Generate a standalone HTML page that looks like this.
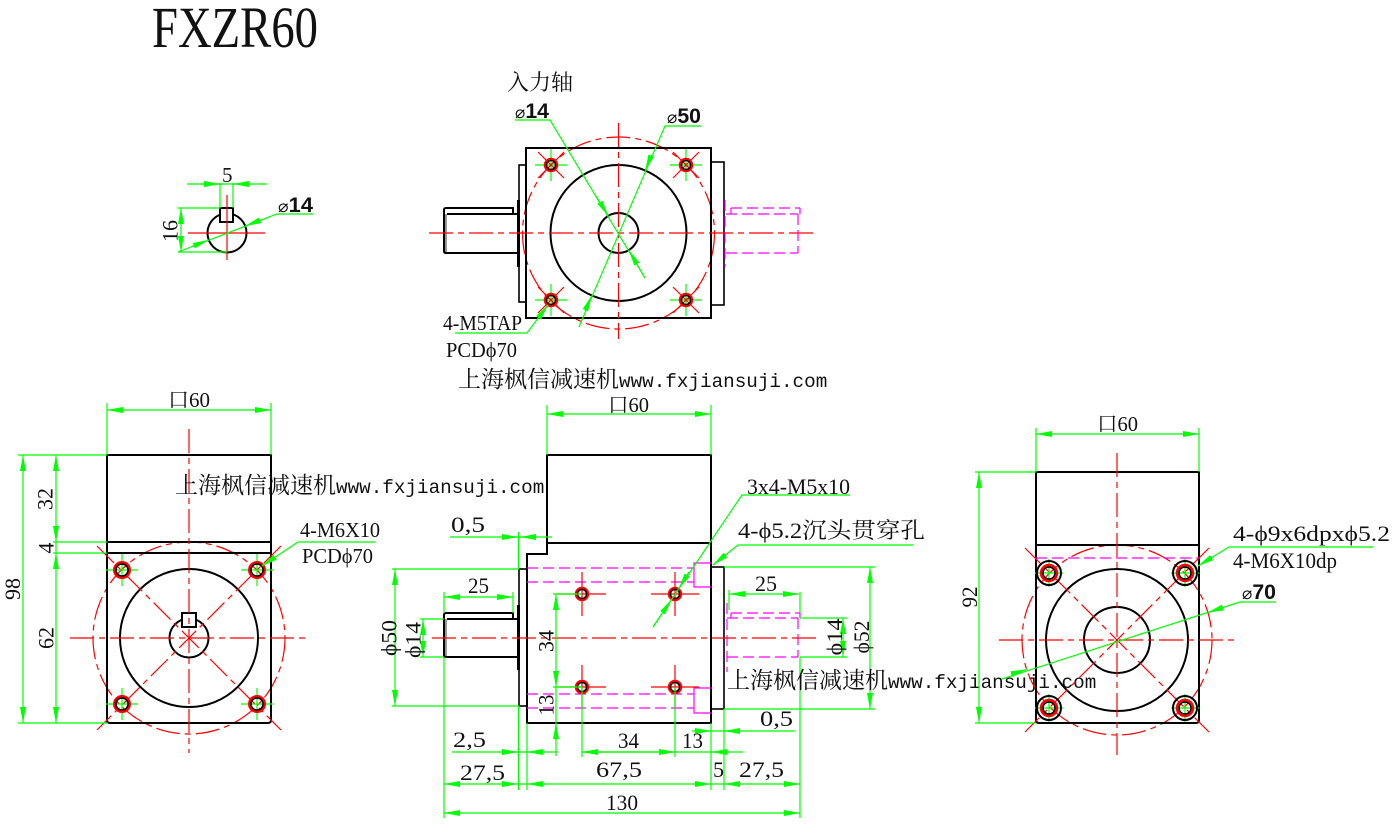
<!DOCTYPE html>
<html><head><meta charset="utf-8"><style>
html,body{margin:0;padding:0;background:#fff;}
svg{display:block;}
text{font-family:"Liberation Serif","Noto Serif CJK SC",serif;fill:#111;}
.s{font-family:"Liberation Sans","DejaVu Sans",sans-serif;font-weight:bold;}
.k{stroke:#000;stroke-width:2;fill:none;}
.r{stroke:#f00;stroke-width:1.2;fill:none;stroke-dasharray:24 5 6 5;}
.rs{stroke:#f00;stroke-width:1.2;fill:none;}
.g{stroke:#0f0;stroke-width:1.2;fill:none;}
.ga{stroke:#0f0;stroke-width:1.2;fill:none;marker-end:url(#a);}
.gb{stroke:#0f0;stroke-width:1.2;fill:none;marker-start:url(#a);marker-end:url(#a);}
.m{stroke:#f0f;stroke-width:1.2;fill:none;stroke-dasharray:11 5;}
.ms{stroke:#f0f;stroke-width:1.2;fill:none;}
</style></head><body>
<svg width="1400" height="828" viewBox="0 0 1400 828" xmlns="http://www.w3.org/2000/svg">
<defs>
<marker id="a" markerUnits="userSpaceOnUse" markerWidth="16" markerHeight="6" refX="16" refY="3" orient="auto-start-reverse" viewBox="0 0 16 6"><path d="M0,0L16,3L0,6z" fill="#0f0"/></marker>
<g id="hA"><path d="M-16,0H16M0,-16V16" class="g"/><path d="M-13,-13L13,13M13,-13L-13,13" class="rs"/><circle r="6" stroke="#f00" stroke-width="2.5" fill="none"/><circle r="4.5" stroke="#000" stroke-width="1.5" fill="none"/></g>
<g id="hB"><path d="M-16,0H16M0,-16V16" class="g"/><circle r="7.5" stroke="#f00" stroke-width="3" fill="none"/><circle r="6" stroke="#000" stroke-width="1.5" fill="none"/></g>
<g id="hC"><path d="M-24,0H24M0,-22V22" class="rs"/><circle r="6" stroke="#f00" stroke-width="2.5" fill="none"/><circle r="4.5" stroke="#000" stroke-width="1.5" fill="none"/></g>
<g id="hD"><path d="M-14,0H14M0,-14V14" class="g"/><circle r="12" stroke="#000" stroke-width="2" fill="none"/><circle r="8" stroke="#f00" stroke-width="2.5" fill="none"/><circle r="6" stroke="#000" stroke-width="1.5" fill="none"/></g>
</defs>
<rect width="1400" height="828" fill="#fff"/>

<!-- Title -->
<text x="152" y="47" font-size="58" textLength="166" lengthAdjust="spacingAndGlyphs">FXZR60</text>

<!-- ===== Key view ===== -->
<circle cx="227" cy="233" r="19.5" class="k"/>
<rect x="220" y="208" width="13" height="14" fill="#fff" stroke="#000" stroke-width="2"/>
<path d="M227,195V260M188,233H265" class="rs"/>
<path d="M220,183V208M233,183V208" class="g"/>
<path d="M187,184H267" class="g"/>
<path d="M200,184H220" class="ga"/>
<path d="M250,184H233" class="ga"/>
<text x="222" y="182" font-size="21">5</text>
<path d="M178,208H220M178,252H227" class="g"/>
<path d="M181,208V252" class="gb"/>
<text transform="translate(170,231) rotate(-90)" y="7.5" text-anchor="middle" font-size="22" textLength="22" lengthAdjust="spacingAndGlyphs">16</text>
<path d="M313,214H277L178,252" class="g"/>
<path d="M262,219.6L245.2,226" class="ga"/>
<path d="M192,246.4L208.8,240" class="ga"/>
<text x="278" y="212" class="s" font-size="21" textLength="35" lengthAdjust="spacingAndGlyphs"><tspan font-size="17" font-weight="normal">⌀</tspan>14</text>

<!-- ===== Top center view ===== -->
<circle cx="618.5" cy="233" r="96" class="r"/>
<rect x="526" y="148" width="185" height="170" class="k"/>
<rect x="519" y="165" width="7" height="137" stroke="#000" stroke-width="1.6" fill="none"/>
<rect x="711" y="162" width="13" height="143" stroke="#000" stroke-width="1.6" fill="none"/>
<rect x="444" y="214" width="3" height="39" fill="#999"/>
<path d="M513,214V208H446Q444,208 444,210V251Q444,253 446,253H518M447,214H518" class="k"/>
<path d="M518.5,200V267" stroke="#000" stroke-width="3"/>
<circle cx="618.5" cy="233" r="68" class="k"/>
<circle cx="618.5" cy="233" r="20" class="k"/>
<use href="#hA" x="551" y="165"/><use href="#hA" x="686" y="165"/>
<use href="#hA" x="551" y="300"/><use href="#hA" x="686" y="300"/>
<path d="M429,233H815" class="r"/>
<path d="M618.5,123V339" class="r"/>
<path d="M726,214H798M726,253H798M731,208H800M798,214V253M800,208V214M731,208V214" class="m"/>
<path d="M725,200V267" class="m"/>
<!-- leaders -->
<path d="M515,120H550L645,278" class="g"/>
<path d="M596,196L608.2,215.8" class="ga"/>
<path d="M645,278L628.8,250.2" class="ga"/>
<text x="515" y="118" class="s" font-size="21" textLength="34" lengthAdjust="spacingAndGlyphs"><tspan font-size="17" font-weight="normal">⌀</tspan>14</text>
<path d="M701,126H665L579,327" class="g"/>
<path d="M651.5,155L645.2,170.5" class="ga"/>
<path d="M585,311L591.8,295.5" class="ga"/>
<text x="667" y="123" class="s" font-size="21" textLength="34" lengthAdjust="spacingAndGlyphs"><tspan font-size="17" font-weight="normal">⌀</tspan>50</text>
<path d="M455,333H527L548,305" class="g"/>
<path d="M538,318.5L548,305" class="ga"/>
<text x="443" y="330" font-size="21" textLength="79" lengthAdjust="spacingAndGlyphs">4-M5TAP</text>
<text x="446" y="357" font-size="21" textLength="71" lengthAdjust="spacingAndGlyphs">PCDϕ70</text>
<text x="507" y="90" font-family="Noto Sans CJK SC" font-size="22">入力轴</text>
<text x="458" y="387"><tspan font-family="Noto Serif CJK SC" font-size="23">上海枫信减速机</tspan><tspan font-family="Liberation Mono" font-size="19.3">www.fxjiansuji.com</tspan></text>

<!-- ===== Left bottom view ===== -->
<circle cx="189" cy="638" r="96" class="r"/>
<path d="M107,455H271V720Q271,723 268,723H110Q107,723 107,720Z" class="k"/>
<path d="M107,542H271M107,553H271" class="k"/>
<circle cx="189" cy="638" r="69" class="k"/>
<circle cx="189" cy="638" r="19.5" class="k"/>
<rect x="182" y="613" width="14" height="14" fill="#fff" stroke="#000" stroke-width="2"/>
<path d="M97,546L281,730M281,546L97,730" class="r"/>
<path d="M189,429V753" class="r"/>
<path d="M70,638H306" class="r"/>
<use href="#hB" x="122" y="570"/><use href="#hB" x="257" y="570"/>
<use href="#hB" x="122" y="704"/><use href="#hB" x="257" y="704"/>
<path d="M107,403V455M271,403V455" class="g"/>
<path d="M107,410H271" class="gb"/>
<text x="168" y="407" font-size="21" textLength="42" lengthAdjust="spacingAndGlyphs">口60</text>
<path d="M18,455H107M18,723H107M53,542H107M53,553H107" class="g"/>
<path d="M23,455V723" class="gb"/>
<path d="M56,455V542" class="gb"/>
<path d="M56,542V553" class="g"/>
<path d="M56,553V723" class="gb"/>
<text transform="translate(12.5,589) rotate(-90)" y="7.5" text-anchor="middle" font-size="22" textLength="22" lengthAdjust="spacingAndGlyphs">98</text>
<text transform="translate(45,499) rotate(-90)" y="7.5" text-anchor="middle" font-size="22" textLength="22" lengthAdjust="spacingAndGlyphs">32</text>
<text transform="translate(46,548) rotate(-90)" y="7.5" text-anchor="middle" font-size="22">4</text>
<text transform="translate(46,638) rotate(-90)" y="7.5" text-anchor="middle" font-size="22" textLength="22" lengthAdjust="spacingAndGlyphs">62</text>
<path d="M375,542H298L262,566" class="g"/>
<path d="M275,557.3L262,566" class="ga"/>
<text x="300" y="537" font-size="21" textLength="80" lengthAdjust="spacingAndGlyphs">4-M6X10</text>
<text x="302" y="563" font-size="21" textLength="71" lengthAdjust="spacingAndGlyphs">PCDϕ70</text>
<text x="175" y="493"><tspan font-family="Noto Serif CJK SC" font-size="23">上海枫信减速机</tspan><tspan font-family="Liberation Mono" font-size="19.3">www.fxjiansuji.com</tspan></text>

<!-- ===== Middle bottom view ===== -->
<rect x="547" y="455" width="164" height="88" class="k"/>
<path d="M527,554H547V543H711V723H527Z" class="k"/>
<rect x="519" y="569" width="8" height="137" stroke="#000" stroke-width="1.6" fill="none"/>
<rect x="711" y="567" width="13" height="142" stroke="#000" stroke-width="1.6" fill="none"/>
<rect x="444" y="619" width="3" height="38" fill="#999"/>
<path d="M513,619V613H446Q444,613 444,615V655Q444,657 446,657H518M447,619H518" class="k"/>
<path d="M518.5,605V670" stroke="#000" stroke-width="3"/>
<path d="M527,568H694M527,582H694M527,694H694M527,708H694" class="m"/>
<path d="M711,563H694V587H711M711,688H694V713H711" class="ms"/>
<path d="M727,618H798M727,657H798M731,613H800M798,618V657M800,613V618M731,613V618" class="m"/>
<path d="M727,603V672" class="m"/>
<path d="M432,638H817" class="r"/>
<use href="#hC" x="582" y="594"/><use href="#hC" x="675" y="594"/>
<use href="#hC" x="582" y="687"/><use href="#hC" x="675" y="687"/>
<!-- dims -->
<path d="M547,405V455M711,405V455" class="g"/>
<path d="M547,414H711" class="gb"/>
<text x="608" y="412" font-size="21" textLength="41" lengthAdjust="spacingAndGlyphs">口60</text>
<path d="M518.5,532V569" class="g"/>
<path d="M450,537H552" class="g"/>
<path d="M502,537H518" class="ga"/>
<path d="M536,537H520" class="ga"/>
<text x="451" y="532" font-size="22" textLength="34" lengthAdjust="spacingAndGlyphs">0,5</text>
<path d="M444,592V613M513,592V613" class="g"/>
<path d="M444,597H513" class="gb"/>
<text x="468" y="593" font-size="22" textLength="21" lengthAdjust="spacingAndGlyphs">25</text>
<path d="M392,569H519M392,706H519" class="g"/>
<path d="M395,569V706" class="gb"/>
<text transform="translate(389,638) rotate(-90)" y="7.5" text-anchor="middle" font-size="22" textLength="36" lengthAdjust="spacingAndGlyphs">ϕ50</text>
<path d="M420,619H444M420,657H444" class="g"/>
<path d="M423,619V657" class="gb"/>
<text transform="translate(413,640) rotate(-90)" y="7.5" text-anchor="middle" font-size="22" textLength="36" lengthAdjust="spacingAndGlyphs">ϕ14</text>
<path d="M553,594H582M553,687H582" class="g"/>
<path d="M556,594V687" class="gb"/>
<path d="M556,687V756" class="g"/>
<path d="M556,740V723" class="ga"/>
<text transform="translate(546,641) rotate(-90)" y="7.5" text-anchor="middle" font-size="22" textLength="22" lengthAdjust="spacingAndGlyphs">34</text>
<text transform="translate(546,705) rotate(-90)" y="7.5" text-anchor="middle" font-size="22" textLength="21" lengthAdjust="spacingAndGlyphs">13</text>
<path d="M444,657V818M518.5,706V790M527,723V790M711,723V790M724,709V790M800,592V613M800,657V818M729,590V610M582,687V757M675,687V757" class="g"/>
<path d="M452,752H558" class="g"/>
<path d="M502,752H518" class="ga"/>
<path d="M543,752H527" class="ga"/>
<text x="453" y="747" font-size="22" textLength="33" lengthAdjust="spacingAndGlyphs">2,5</text>
<path d="M582,752H743" class="g"/>
<path d="M582,752H675" class="gb"/>
<path d="M727,752H711" class="ga"/>
<text x="618" y="748" font-size="22" textLength="21" lengthAdjust="spacingAndGlyphs">34</text>
<text x="682" y="748" font-size="22" textLength="21" lengthAdjust="spacingAndGlyphs">13</text>
<path d="M692,731H795" class="g"/>
<path d="M695,731H711" class="ga"/>
<path d="M740,731H724" class="ga"/>
<text x="760" y="726" font-size="22" textLength="33" lengthAdjust="spacingAndGlyphs">0,5</text>
<path d="M444,784H518" class="gb"/>
<path d="M527,784H711" class="gb"/>
<path d="M518,784H527M711,784H724" class="g"/>
<path d="M724,784H800" class="gb"/>
<text x="460" y="780" font-size="22" textLength="45" lengthAdjust="spacingAndGlyphs">27,5</text>
<text x="596" y="777" font-size="22" textLength="46" lengthAdjust="spacingAndGlyphs">67,5</text>
<text x="713" y="777" font-size="22">5</text>
<text x="739" y="777" font-size="22" textLength="45" lengthAdjust="spacingAndGlyphs">27,5</text>
<path d="M444,813H800" class="gb"/>
<text x="606" y="810" font-size="22" textLength="32" lengthAdjust="spacingAndGlyphs">130</text>
<path d="M729,594H799" class="gb"/>
<text x="755" y="591" font-size="22" textLength="22" lengthAdjust="spacingAndGlyphs">25</text>
<path d="M800,618H847M800,657H847" class="g"/>
<path d="M843,618V657" class="gb"/>
<text transform="translate(834.5,637) rotate(-90)" y="7.5" text-anchor="middle" font-size="22" textLength="37" lengthAdjust="spacingAndGlyphs">ϕ14</text>
<path d="M724,567H875M724,709H875" class="g"/>
<path d="M870,567V709" class="gb"/>
<text transform="translate(861.5,637) rotate(-90)" y="7.5" text-anchor="middle" font-size="22" textLength="33" lengthAdjust="spacingAndGlyphs">ϕ52</text>
<!-- mid leaders -->
<path d="M850,495H742L653,627" class="g"/>
<path d="M689,572L678.8,588.7" class="ga"/>
<path d="M653,627L671.6,599.5" class="ga"/>
<text x="747" y="494" font-size="22" textLength="103" lengthAdjust="spacingAndGlyphs">3x4-M5x10</text>
<path d="M913,545H738L713,565" class="g"/>
<path d="M725.5,555L713,565" class="ga"/>
<text x="738" y="538" font-size="22" textLength="187" lengthAdjust="spacingAndGlyphs">4-ϕ5.2沉头贯穿孔</text>
<text x="727" y="688"><tspan font-family="Noto Serif CJK SC" font-size="23">上海枫信减速机</tspan><tspan font-family="Liberation Mono" font-size="19.3">www.fxjiansuji.com</tspan></text>

<!-- ===== Right view ===== -->
<circle cx="1117" cy="640" r="95" class="r"/>
<path d="M1036,472H1199V720Q1199,723 1196,723H1039Q1036,723 1036,720Z" class="k"/>
<path d="M1036,545H1199" class="k"/>
<path d="M1036,558H1199" class="m"/>
<circle cx="1117" cy="640" r="71" class="k"/>
<circle cx="1117" cy="640" r="33" class="k"/>
<path d="M1025,548L1209,732M1209,548L1025,732" class="r"/>
<path d="M1117,453V755" class="r"/>
<path d="M999,640H1234" class="r"/>
<use href="#hD" x="1049" y="573"/><use href="#hD" x="1185" y="573"/>
<use href="#hD" x="1049" y="708"/><use href="#hD" x="1185" y="708"/>
<path d="M1036,428V472M1199,428V472" class="g"/>
<path d="M1036,434H1199" class="gb"/>
<text x="1097" y="431" font-size="21" textLength="41" lengthAdjust="spacingAndGlyphs">口60</text>
<path d="M975,472H1036M975,723H1036" class="g"/>
<path d="M979,472V723" class="gb"/>
<text transform="translate(969.5,597) rotate(-90)" y="7.5" text-anchor="middle" font-size="22" textLength="21" lengthAdjust="spacingAndGlyphs">92</text>
<path d="M1373,547H1229L1198,566" class="g"/>
<path d="M1211.6,557.7L1198,566" class="ga"/>
<text x="1233" y="541" font-size="22" textLength="157" lengthAdjust="spacingAndGlyphs">4-ϕ9x6dpxϕ5.2</text>
<text x="1233" y="568" font-size="22" textLength="104" lengthAdjust="spacingAndGlyphs">4-M6X10dp</text>
<path d="M1276,602H1240L1002,679" class="g"/>
<path d="M1223,607.5L1207.7,612.5" class="ga"/>
<path d="M1011,674.3L1026.7,669.3" class="ga"/>
<text x="1242" y="599" class="s" font-size="21" textLength="34" lengthAdjust="spacingAndGlyphs"><tspan font-size="17" font-weight="normal">⌀</tspan>70</text>
</svg>
</body></html>
